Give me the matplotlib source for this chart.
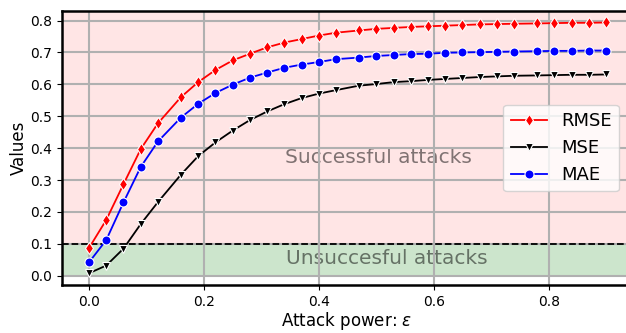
import matplotlib
matplotlib.use("Agg")
import matplotlib.pyplot as plt

eps = [0.0, 0.03, 0.06, 0.09, 0.12, 0.16, 0.19, 0.22, 0.25, 0.28,
       0.31, 0.34, 0.37, 0.40, 0.43, 0.47, 0.50, 0.53, 0.56, 0.59,
       0.62, 0.65, 0.68, 0.71, 0.74, 0.78, 0.81, 0.84, 0.87, 0.90]

rmse = [0.087, 0.175, 0.287, 0.397, 0.478, 0.560, 0.607, 0.645, 0.675, 0.696,
        0.716, 0.731, 0.742, 0.753, 0.762, 0.769, 0.774, 0.777, 0.780, 0.782,
        0.784, 0.786, 0.788, 0.789, 0.790, 0.791, 0.792, 0.793, 0.793, 0.794]

mse = [0.008, 0.032, 0.085, 0.162, 0.231, 0.317, 0.375, 0.418, 0.455, 0.488,
       0.515, 0.538, 0.557, 0.571, 0.582, 0.596, 0.601, 0.607, 0.610, 0.614,
       0.617, 0.620, 0.623, 0.625, 0.627, 0.628, 0.629, 0.630, 0.630, 0.631]

mae = [0.042, 0.112, 0.230, 0.341, 0.421, 0.496, 0.539, 0.573, 0.599, 0.621,
       0.637, 0.652, 0.662, 0.670, 0.679, 0.684, 0.689, 0.692, 0.695, 0.696,
       0.699, 0.700, 0.701, 0.702, 0.703, 0.704, 0.705, 0.705, 0.706, 0.706]

threshold = 0.1

fig = plt.figure(figsize=(6.26, 3.33), dpi=100)
ax = fig.add_axes([62/626, 48/333, 570/626, 274/333])

ax.axhspan(threshold, 1.0, color="red", alpha=0.1, lw=0, zorder=0)
ax.axhspan(0.0, threshold, color="green", alpha=0.2, lw=0, zorder=0)
ax.axhline(threshold, color="black", ls="--", lw=1.3)

ax.plot(eps, rmse, color="red", marker="d", ms=6, mec="white", mew=0.8, lw=1.3, label="RMSE")
ax.plot(eps, mse, color="black", marker="v", ms=6, mec="white", mew=0.8, lw=1.3, label="MSE")
ax.plot(eps, mae, color="blue", marker="o", ms=6.5, mec="white", mew=0.8, lw=1.3, label="MAE")

ax.text(0.503, 0.37, "Successful attacks", fontsize=14.5, color="black", alpha=0.5,
        ha="center", va="center", zorder=0.2)
ax.text(0.519, 0.055, "Unsuccesful attacks", fontsize=14.5, color="black", alpha=0.5,
        ha="center", va="center", zorder=0.2)

ax.set_xlim(-0.047, 0.945)
ax.set_ylim(-0.029, 0.83)
ax.set_xticks([0.0, 0.2, 0.4, 0.6, 0.8])
ax.set_yticks([0.0, 0.1, 0.2, 0.3, 0.4, 0.5, 0.6, 0.7, 0.8])
ax.tick_params(labelsize=10)
ax.set_xlabel(r"Attack power: $\varepsilon$", fontsize=12, labelpad=1)
ax.set_ylabel("Values", fontsize=12, labelpad=2)
ax.grid(color="#b0b0b0", lw=1.5)
ax.set_axisbelow(True)
for s in ax.spines.values():
    s.set_linewidth(1.8)
ax.legend(loc="center right", fontsize=13, bbox_to_anchor=(0.993, 0.5))

fig.savefig("out.png", dpi=100)
